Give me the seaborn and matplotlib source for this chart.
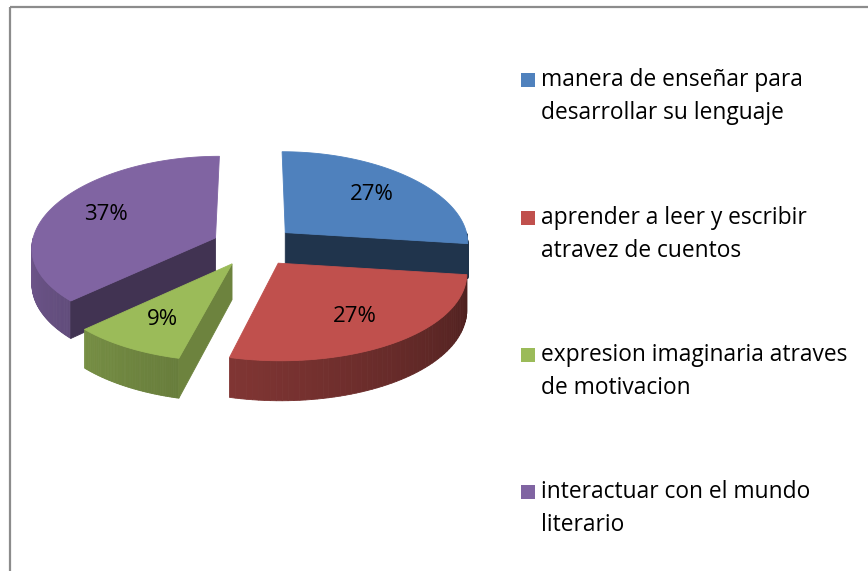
import numpy as np
import matplotlib
matplotlib.use("Agg")
import matplotlib.pyplot as plt
import seaborn as sns
from matplotlib.patches import Polygon, Rectangle
from matplotlib.colors import to_rgb

# ---- data ----
categories = ["manera de enseñar para\ndesarrollar su lenguaje",
              "aprender a leer y escribir\natravez de cuentos",
              "expresion imaginaria atraves\nde motivacion",
              "interactuar con el mundo\nliterario"]
values = [27, 27, 9, 37]
pct_labels = ["27%", "27%", "9%", "37%"]
colors = ["#4F81BD", "#C0504D", "#9BBB59", "#8064A2"]

sns.set_theme(style="white")
plt.rcParams['font.family'] = ['Open Sans', 'DejaVu Sans']

W, H = 868, 571
fig = plt.figure(figsize=(W / 100, H / 100), dpi=100)
ax = fig.add_axes([0, 0, 1, 1])
ax.set_xlim(0, W)
ax.set_ylim(H, 0)
ax.axis('off')

# projection of the pie plane (units of radius) to the canvas
CX, CY = 254, 246
RX, RY = 184, 89
P_PERS, Q_PERS = 0.07, 0.1
D0, DS = 35, 0.12
EXPL = 0.23
FS_PCT = 16
FS_LEG = 16.4


def proj(u, v):
    x = CX + RX * u * (1 - Q_PERS * v)
    y = CY - RY * v + RY * P_PERS * v * v
    d = D0 * (1 - DS * v)
    return x, y, d


def shade(c, k):
    r = np.array(to_rgb(c))
    return tuple(r * (1 - k))


def poly(pts, col, z):
    ax.add_patch(Polygon(pts, closed=True, facecolor=col, edgecolor=col,
                         linewidth=0.6, zorder=z))


total = float(sum(values))
starts = []
acc = 0.0
for v in values:
    a_start = 90 - acc / total * 360
    a_end = a_start - v / total * 360
    starts.append((a_end, a_start))
    acc += v

draw_order = [0, 3, 2, 1]
for zi, i in enumerate(draw_order):
    lo, hi = starts[i]
    mid = np.radians((lo + hi) / 2)
    eu, ev = EXPL * np.cos(mid), EXPL * np.sin(mid)
    col = colors[i]
    z = 2 + zi * 3

    def pt(r, ang_deg):
        a = np.radians(ang_deg)
        return proj(eu + r * np.cos(a), ev + r * np.sin(a))

    # outer wall (front part only)
    for k in range(-1, 2):
        a0 = max(lo, -180 + 360 * k)
        a1 = min(hi, 360 * k)
        if a1 <= a0:
            continue
        angs = np.linspace(a0, a1, 60)
        for j in range(len(angs) - 1):
            x0, y0, d0 = pt(1, angs[j])
            x1, y1, d1 = pt(1, angs[j + 1])
            phi = ((angs[j] + angs[j + 1]) / 2) % 360
            kk = 0.12 + 0.5 * ((phi - 180) / 180)
            poly([(x0, y0), (x1, y1), (x1, y1 + d1), (x0, y0 + d0)],
                 shade(col, kk), z)

    # radial cut faces
    for ang, nrm in ((hi, hi + 90), (lo, lo - 90)):
        s = np.sin(np.radians(nrm))
        if s < -1e-6:
            xc, yc, dc = pt(0, ang)
            xe, ye, de = pt(1, ang)
            kk = 0.2 + 0.4 * abs(s)
            poly([(xc, yc), (xe, ye), (xe, ye + de), (xc, yc + dc)],
                 shade(col, kk), z + 1)

    # top face
    angs = np.linspace(lo, hi, 120)
    pts = [pt(0, lo)[:2]] + [pt(1, a)[:2] for a in angs]
    poly(pts, col, z + 2)

    # percentage label
    lx, ly, _ = pt(0.68, np.degrees(mid))
    ax.text(lx, ly, pct_labels[i], ha='center', va='center', fontsize=FS_PCT,
            color='black', zorder=30)

# legend
leg_y = [80, 218, 355, 492]
for i, lab in enumerate(categories):
    y = leg_y[i]
    ax.add_patch(Rectangle((521, y - 7), 14, 14, facecolor=colors[i],
                           edgecolor='none', zorder=30))
    for li, line in enumerate(lab.split("\n")):
        ax.text(541, y + li * 33, line, ha='left', va='center',
                fontsize=FS_LEG, color='black', zorder=30)

# chart-area border (top and left visible)
ax.plot([10, 10], [7, H], color='#8C8C8C', lw=1.6, zorder=40,
        solid_capstyle='butt')
ax.plot([10, W], [7, 7], color='#8C8C8C', lw=1.6, zorder=40,
        solid_capstyle='butt')

fig.savefig("out.png", dpi=100)
